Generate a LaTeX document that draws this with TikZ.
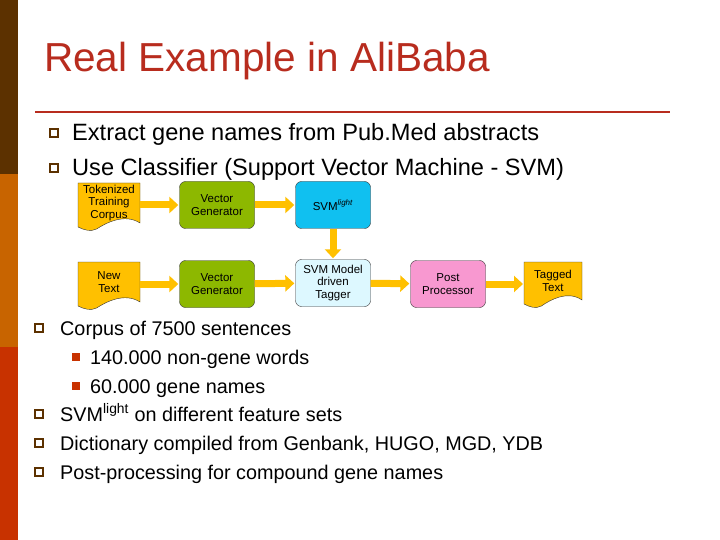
\documentclass[tikz,border=0pt]{standalone}
\usepackage{fontspec}
\setmainfont{Liberation Sans}
\usetikzlibrary{arrows.meta}
\definecolor{brn}{HTML}{5C3100}
\definecolor{org}{HTML}{C86400}
\definecolor{rd}{HTML}{C83200}
\definecolor{ttl}{HTML}{B82C1E}
\definecolor{ylw}{HTML}{FFC000}
\definecolor{grn}{HTML}{8DB800}
\definecolor{blu}{HTML}{10C0F0}
\definecolor{lcy}{HTML}{DDF8FF}
\definecolor{pnk}{HTML}{F898D0}
\begin{document}
\begin{tikzpicture}[x=1pt,y=-1pt,
  box/.style={draw=black!80,rounded corners=6pt,minimum width=75pt,minimum height=47pt,align=center,font=\fontsize{11.5}{12.5}\selectfont,inner sep=1pt},
  arr/.style={draw=ylw,line width=7pt,-{Triangle[length=9pt,width=16pt]},shorten >=1pt},
  big/.style={font=\fontsize{23.6}{25}\selectfont,anchor=base west,inner sep=0},
  sml/.style={font=\fontsize{19.8}{21}\selectfont,anchor=base west,inner sep=0},
  sq/.style={draw=brn,line width=1.6pt,minimum size=8pt,inner sep=0},
  fsq/.style={fill=rd,minimum size=8pt,inner sep=0}]
\useasboundingbox (0,0) rectangle (720,540);
\fill[white] (0,0) rectangle (720,540);
\fill[brn] (0,0) rectangle (18,174);
\fill[org] (0,174) rectangle (18,347);
\fill[rd] (0,347) rectangle (18,540);
\node[anchor=base west,inner sep=0,text=ttl,font=\fontsize{40.5}{42}\selectfont] (title) at (44,72) {Real Example in AliBaba};
\draw[ttl,line width=2.5pt] (35,112) -- (670,112);
\node[sq] (b1) at (54,133) {};
\node[big] (t1) at (72,141) {Extract gene names from Pub.Med abstracts};
\node[sq] (b2) at (54,168) {};
\node[big] (t2) at (72,176) {Use Classifier (Support Vector Machine - SVM)};
% documents
\foreach \n/\x/\y/\w/\h/\t in {d1/78/183/62/44/{Tokenized\\Training\\Corpus},d2/78/262/62/44/{New\\Text},d3/524/262/58/42/{Tagged\\Text}}{
  \fill[ylw,draw=black!80] (\x,\y) -- (\x+\w,\y) -- (\x+\w,\y+\h-4) .. controls (\x+0.75*\w,\y+\h-14) and (\x+0.45*\w,\y+\h-4) .. (\x+0.3*\w,\y+\h+2) .. controls (\x+0.2*\w,\y+\h+5) and (\x+0.1*\w,\y+\h+3) .. (\x,\y+\h) -- cycle;
  \node[align=center,font=\fontsize{11.5}{12.5}\selectfont,inner sep=0] (\n) at (\x+\w/2,\y+\h/2-2) {\t};
}
\node[box,fill=grn] (v1) at (217,205) {Vector\\Generator};
\node[box,fill=blu] (s1) at (333,205) {SVM\textsuperscript{\textit{light}}};
\node[box,fill=grn] (v2) at (217,284) {Vector\\Generator};
\node[box,fill=lcy] (s2) at (333,283) {SVM Model\\driven\\Tagger};
\node[box,fill=pnk] (pp) at (448,284) {Post\\Processor};
\draw[arr] (140,205) -- (v1);
\draw[arr] (v1) -- (s1);
\draw[arr] (s1) -- (s2);
\draw[arr] (140,284) -- (v2);
\draw[arr] (v2) -- (s2);
\draw[arr] (s2) -- (pp);
\draw[arr] (pp) -- (524,284);
% lower bullets
\node[sq] (c1) at (39,328) {};
\node[sml] (u1) at (60,335) {Corpus of 7500 sentences};
\node[fsq] (e1) at (76,357) {};
\node[sml] (u2) at (90,364) {140.000 non-gene words};
\node[fsq] (e2) at (76,386) {};
\node[sml] (u3) at (90,393) {60.000 gene names};
\node[sq] (c2) at (39,414) {};
\node[sml] (u4) at (60,421) {SVM\textsuperscript{light} on different feature sets};
\node[sq] (c3) at (39,443) {};
\node[sml] (u5) at (60,450) {Dictionary compiled from Genbank, HUGO, MGD, YDB};
\node[sq] (c4) at (39,472) {};
\node[sml] (u6) at (60,479) {Post-processing for compound gene names};
\end{tikzpicture}
\end{document}
